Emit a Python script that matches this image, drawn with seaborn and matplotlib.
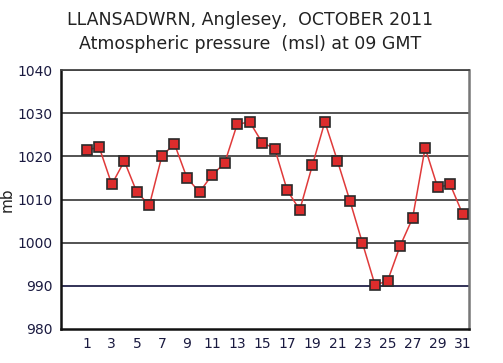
import matplotlib
matplotlib.use('Agg')
import matplotlib.pyplot as plt
import seaborn as sns
import pandas as pd

days = list(range(1, 32))
pressure = [1021.5, 1022.1, 1013.5, 1018.9, 1011.7, 1008.7, 1020.1, 1022.9, 1015.0, 1011.7,
            1015.7, 1018.4, 1027.4, 1028.0, 1023.2, 1021.8, 1012.1, 1007.6, 1017.9, 1028.0,
            1019.0, 1009.7, 999.9, 990.2, 991.1, 999.2, 1005.7, 1022.0, 1012.8, 1013.5, 1006.6]
yticks = [980, 990, 1000, 1010, 1020, 1030, 1040]
xticks = list(range(1, 32, 2))

df = pd.DataFrame({'Day': days, 'Pressure': pressure})

sns.set_style('white')
plt.rcParams['font.family'] = ['DejaVu Sans']

fig = plt.figure(figsize=(5.03, 3.63), dpi=100)
ax = fig.add_axes([0.1213, 0.0937, 0.8111, 0.7133])

for v in yticks[1:]:
    col = '#22224a' if v == 990 else '#444444'
    ax.axhline(v, color=col, lw=1.3, zorder=1)

sns.lineplot(data=df, x='Day', y='Pressure', ax=ax, color='#e03a3a', lw=1.1,
             marker='s', markersize=7.2, markerfacecolor='#dd2c2c',
             markeredgecolor='#2a2a2a', markeredgewidth=1.2, zorder=3)

ax.set_xlim(-1.05, 31.5)
ax.set_ylim(980, 1040)
ax.set_xticks(xticks)
ax.set_yticks(yticks)
ax.tick_params(axis='both', length=0, labelsize=10, colors='#1a1a40', pad=6)
ax.set_xlabel('')
ax.set_ylabel('mb', fontsize=11, color='#222222')
ax.yaxis.set_label_coords(-0.113, 0.5)

for side in ['left', 'bottom']:
    ax.spines[side].set_color('#111111')
    ax.spines[side].set_linewidth(1.8)
ax.spines['right'].set_color('#777777')
ax.spines['right'].set_linewidth(1.8)
ax.spines['top'].set_color('#444444')
ax.spines['top'].set_linewidth(1.3)

fig.text(0.497, 0.945, 'LLANSADWRN, Anglesey,  OCTOBER 2011', ha='center', va='center',
         fontsize=12.5, color='#222222')
fig.text(0.497, 0.88, 'Atmospheric pressure  (msl) at 09 GMT', ha='center', va='center',
         fontsize=12.5, color='#222222')

fig.savefig('out.png', dpi=100)
